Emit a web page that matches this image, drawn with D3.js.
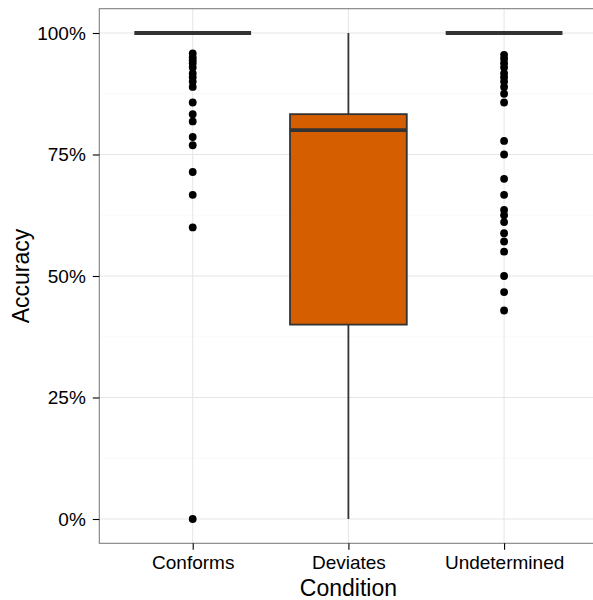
<!DOCTYPE html>
<html>
<head>
<meta charset="utf-8">
<script src="https://cdn.jsdelivr.net/npm/d3@7"></script>
<style>
  html, body { margin: 0; padding: 0; background: #ffffff; }
  svg { display: block; font-family: "Liberation Sans", Arial, Helvetica, sans-serif; }
</style>
</head>
<body>
<svg id="chart" width="593" height="600"></svg>
<script>
// ---- data ----
const categories = ["Conforms", "Deviates", "Undetermined"];
const q1Values      = [1.00, 0.40, 1.00];
const medianValues  = [1.00, 0.80, 1.00];
const q3Values      = [1.00, 0.833, 1.00];
const whiskerLow    = [1.00, 0.00, 1.00];
const whiskerHigh   = [1.00, 1.00, 1.00];
const boxFills      = ["#D55E00", "#D55E00", "#D55E00"];
const outliersConforms = [0.958, 0.95, 0.944, 0.938, 0.929, 0.917, 0.909, 0.90, 0.889,
  0.857, 0.833, 0.818, 0.786, 0.769, 0.714, 0.667, 0.60, 0.0];
const outliersDeviates = [];
const outliersUndetermined = [0.955, 0.947, 0.938, 0.929, 0.917, 0.909, 0.90, 0.889, 0.875,
  0.857, 0.778, 0.75, 0.70, 0.667, 0.636, 0.625, 0.611, 0.588, 0.571, 0.55, 0.50, 0.467, 0.429];
const outliers = [outliersConforms, outliersDeviates, outliersUndetermined];
const yTickValues = [0, 0.25, 0.5, 0.75, 1.0];
const yTickLabels = ["0%", "25%", "50%", "75%", "100%"];
const yMinorValues = [0.125, 0.375, 0.625, 0.875];
const xTitle = "Condition";
const yTitle = "Accuracy";

// ---- layout ----
const svg = d3.select("#chart");
const pLeft = 99.3, pRight = 597.5, pTop = 8.7, pBottom = 543.3;

const x = d3.scalePoint().domain(categories).range([pLeft, pRight]).padding(0.6);
const y = d3.scaleLinear().domain([-0.05, 1.05]).range([pBottom, pTop]);
const boxW = x.step() * 0.75;

// panel background
svg.append("rect").attr("x", pLeft).attr("y", pTop)
  .attr("width", pRight - pLeft).attr("height", pBottom - pTop).attr("fill", "#ffffff");

// minor grid
svg.append("g").selectAll("line").data(yMinorValues).join("line")
  .attr("x1", pLeft).attr("x2", pRight)
  .attr("y1", d => y(d)).attr("y2", d => y(d))
  .attr("stroke", "#FAFAFA").attr("stroke-width", 1);

// major grid
svg.append("g").selectAll("line").data(yTickValues).join("line")
  .attr("x1", pLeft).attr("x2", pRight)
  .attr("y1", d => y(d)).attr("y2", d => y(d))
  .attr("stroke", "#E5E5E5").attr("stroke-width", 1);
svg.append("g").selectAll("line").data(categories).join("line")
  .attr("x1", d => x(d)).attr("x2", d => x(d))
  .attr("y1", pTop).attr("y2", pBottom)
  .attr("stroke", "#E5E5E5").attr("stroke-width", 1);

// boxplots
const stroke = "#333333";
const g = svg.append("g");
categories.forEach((c, i) => {
  const cx = x(c);
  g.append("line").attr("x1", cx).attr("x2", cx)
    .attr("y1", y(q3Values[i])).attr("y2", y(whiskerHigh[i]))
    .attr("stroke", stroke).attr("stroke-width", 1.8);
  g.append("line").attr("x1", cx).attr("x2", cx)
    .attr("y1", y(q1Values[i])).attr("y2", y(whiskerLow[i]))
    .attr("stroke", stroke).attr("stroke-width", 1.8);
  g.append("rect").attr("x", cx - boxW / 2).attr("y", y(q3Values[i]))
    .attr("width", boxW).attr("height", Math.max(0, y(q1Values[i]) - y(q3Values[i])))
    .attr("fill", boxFills[i]).attr("stroke", stroke).attr("stroke-width", 1.8);
  g.append("line").attr("x1", cx - boxW / 2).attr("x2", cx + boxW / 2)
    .attr("y1", y(medianValues[i])).attr("y2", y(medianValues[i]))
    .attr("stroke", stroke).attr("stroke-width", 3.8);
  g.append("g").selectAll("circle").data(outliers[i]).join("circle")
    .attr("cx", cx).attr("cy", d => y(d)).attr("r", 3.9).attr("fill", "#000000");
});

// panel border
svg.append("rect").attr("x", pLeft).attr("y", pTop)
  .attr("width", pRight - pLeft).attr("height", pBottom - pTop)
  .attr("fill", "none").attr("stroke", "#7F7F7F").attr("stroke-width", 1.1);

// y axis
const yAxis = d3.axisLeft(y).tickValues(yTickValues)
  .tickFormat((d, i) => yTickLabels[i]).tickSize(6.5).tickPadding(7);
const ya = svg.append("g").attr("transform", `translate(${pLeft},0)`).call(yAxis);
ya.select(".domain").remove();
ya.selectAll(".tick line").attr("stroke", "#000").attr("stroke-width", 1.1);
ya.selectAll(".tick text").attr("fill", "#000").style("font-size", "19px")
  .style("font-family", "'Liberation Sans', Arial, sans-serif");

// x axis
const xAxis = d3.axisBottom(x).tickSize(6.5).tickPadding(6);
const xa = svg.append("g").attr("transform", `translate(0,${pBottom})`).call(xAxis);
xa.select(".domain").remove();
xa.selectAll(".tick line").attr("stroke", "#000").attr("stroke-width", 1.1);
xa.selectAll(".tick text").attr("fill", "#000").style("font-size", "19px")
  .style("font-family", "'Liberation Sans', Arial, sans-serif");

// titles
svg.append("text").attr("x", x("Deviates")).attr("y", 596)
  .attr("text-anchor", "middle").style("font-size", "23px").attr("fill", "#000")
  .text(xTitle);
svg.append("text").attr("transform", `translate(29,${(pTop + pBottom) / 2}) rotate(-90)`)
  .attr("text-anchor", "middle").style("font-size", "23px").attr("fill", "#000")
  .text(yTitle);
</script>
</body>
</html>
